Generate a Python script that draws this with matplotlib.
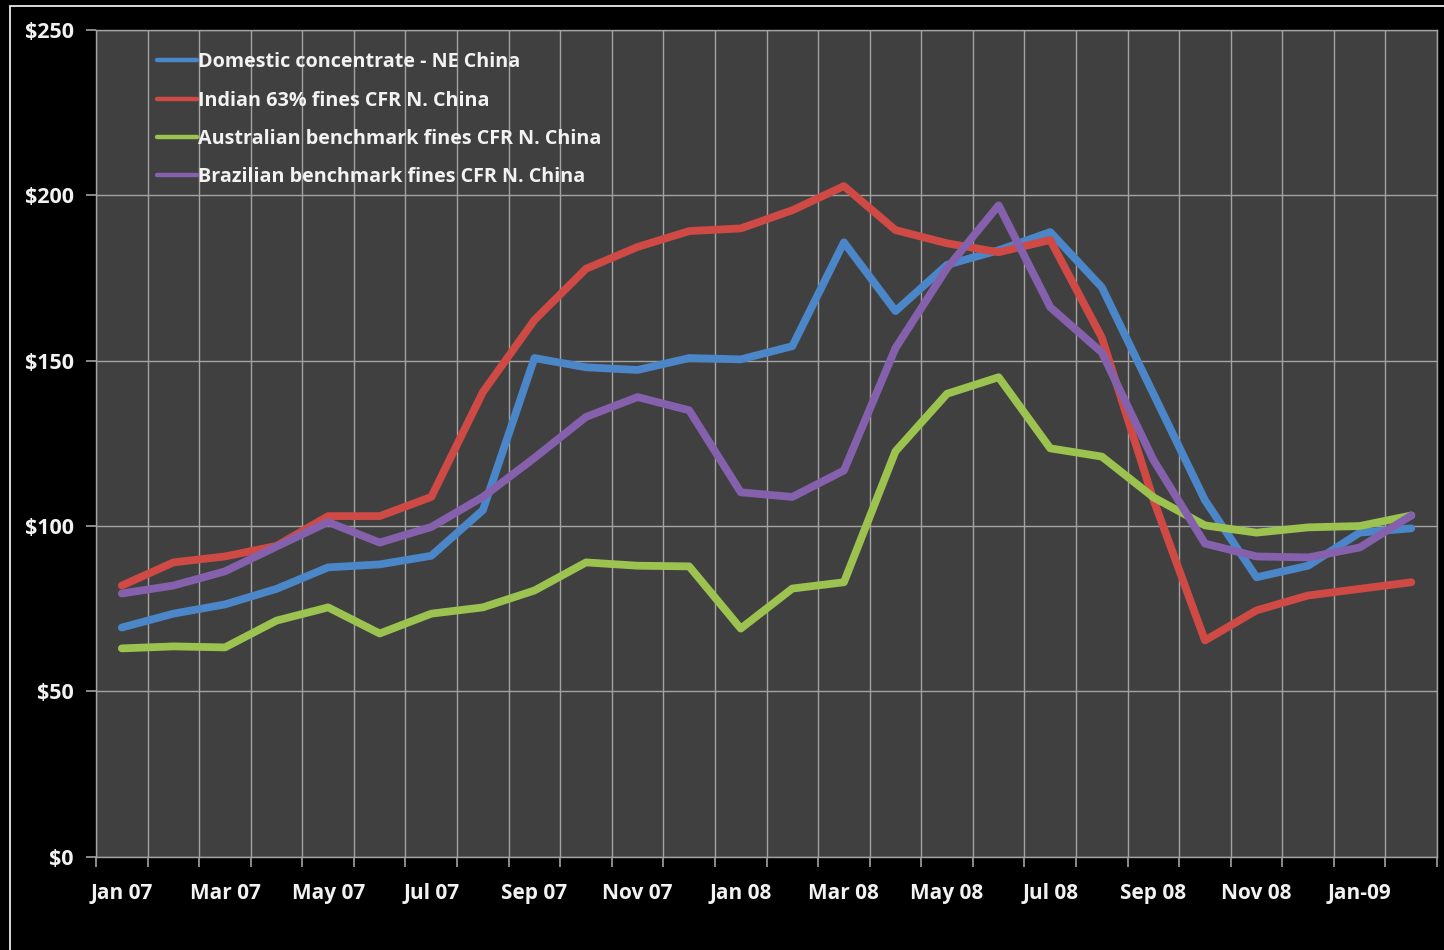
import numpy as np
import matplotlib
matplotlib.use("Agg")
import matplotlib.pyplot as plt
from matplotlib.patches import Rectangle

plt.rcParams['font.family'] = ['Open Sans', 'DejaVu Sans']
plt.rcParams['font.weight'] = 'bold'

months = ["Jan 07", "Feb 07", "Mar 07", "Apr 07", "May 07", "Jun 07", "Jul 07", "Aug 07",
          "Sep 07", "Oct 07", "Nov 07", "Dec 07", "Jan 08", "Feb 08", "Mar 08", "Apr 08",
          "May 08", "Jun 08", "Jul 08", "Aug 08", "Sep 08", "Oct 08", "Nov 08", "Dec 08",
          "Jan-09", "Feb 09"]

domestic = [69.3, 73.5, 76.3, 81.0, 87.5, 88.4, 91.0, 104.8, 150.8, 148.0, 147.2, 150.8, 150.4,
            154.4, 185.8, 165.0, 179.0, 183.4, 188.9, 172.2, 140.0, 107.8, 84.5, 88.0, 98.0, 99.3]
indian = [82.0, 89.0, 90.8, 94.0, 103.0, 103.0, 108.8, 140.5, 162.3, 177.8, 184.4, 189.2, 190.0,
          195.5, 202.8, 189.5, 185.5, 182.8, 186.5, 157.0, 108.0, 65.4, 74.5, 79.0, 81.0, 83.0]
australian = [63.0, 63.6, 63.3, 71.4, 75.4, 67.5, 73.5, 75.4, 80.5, 89.0, 88.0, 87.8, 69.0,
              81.1, 83.0, 122.6, 140.0, 145.0, 123.5, 121.0, 108.7, 100.2, 98.0, 99.6, 100.0, 103.2]
brazilian = [79.6, 82.0, 86.3, 93.8, 101.2, 95.0, 99.7, 108.8, 120.6, 133.0, 139.0, 135.0, 110.2,
             108.8, 116.8, 153.8, 178.0, 197.0, 166.2, 152.5, 120.0, 94.7, 90.8, 90.5, 93.5, 103.2]

series = [
    ("Domestic concentrate - NE China", domestic, "#4a86c8"),
    ("Indian 63% fines CFR N. China", indian, "#cf4a45"),
    ("Australian benchmark fines CFR N. China", australian, "#9cc24f"),
    ("Brazilian benchmark fines CFR N. China", brazilian, "#8561ad"),
]

yticks = [0, 50, 100, 150, 200, 250]

grid_c = "#a3a3a3"
text_c = "#f2f2f2"

fig = plt.figure(figsize=(14.44, 9.5), dpi=100, facecolor="black")
ax = fig.add_axes([0.0665, 0.0982, 0.9287, 0.8702])
ax.set_facecolor("#404040")

x = np.arange(len(months))
for label, vals, color in series:
    ax.plot(x, vals, color=color, lw=5.6, label=label,
            solid_joinstyle="round", solid_capstyle="round", zorder=3)

ax.set_xlim(-0.5, len(months) - 0.5)
ax.set_ylim(0, 250)

# category boundaries carry the ticks and vertical grid
ax.set_xticks(np.arange(-0.5, len(months), 1.0))
ax.set_xticklabels([])
ax.tick_params(axis="x", which="major", length=7, width=1.2, color=grid_c, direction="out")
# month names sit at category centres, every other month
ax.set_xticks(x[::2], minor=True)
ax.set_xticklabels(months[::2], minor=True, fontweight="bold", fontsize=15)
ax.tick_params(axis="x", which="minor", length=0, pad=19, labelcolor=text_c)

ax.set_yticks(yticks)
ax.set_yticklabels([f"${v}" for v in yticks], fontweight="bold", fontsize=15.5)
ax.tick_params(axis="y", length=7, width=1.2, color=grid_c, direction="out",
               pad=9, labelcolor=text_c)

ax.grid(True, which="major", color=grid_c, lw=1.0, zorder=1)
ax.set_axisbelow(True)
for sp in ax.spines.values():
    sp.set_color(grid_c)
    sp.set_linewidth(1.0)

leg = ax.legend(loc="upper left", bbox_to_anchor=(0.0395, 0.9825), frameon=False,
                prop={"size": 14.2, "weight": "bold"}, handlelength=2.05, handletextpad=0.05,
                labelspacing=0.93, borderaxespad=0)
for txt in leg.get_texts():
    txt.set_color(text_c)
for h in leg.get_lines():
    h.set_linewidth(3.2)

# outer white frame
fig.add_artist(Rectangle((10 / 1444, -0.05), 1.1, 1 - 6 / 950 + 0.05,
                         transform=fig.transFigure, fill=False,
                         edgecolor="white", lw=1.2))

fig.savefig("out.png", dpi=100, facecolor="black")
